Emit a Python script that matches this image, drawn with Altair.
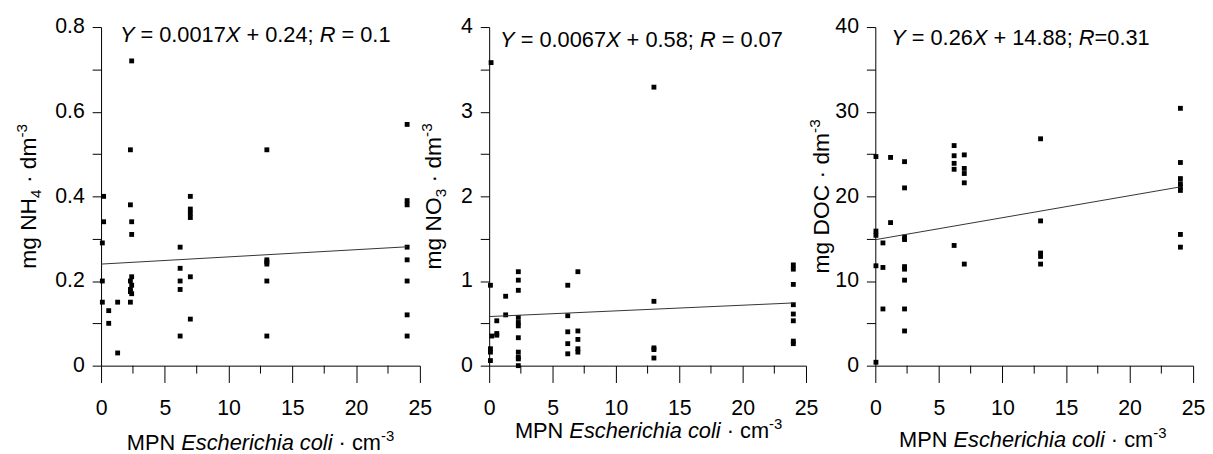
import altair as alt
import pandas as pd

FONT = "Liberation Sans"

# ---------------- data ----------------
nh4_x = [0.2, 0.2, 0.1, 0.1, 0.1,
         0.6, 0.6, 1.3, 1.3,
         2.4, 2.3, 2.3, 2.4, 2.4, 2.4, 2.3, 2.4, 2.3, 2.4, 2.3, 2.3,
         6.2, 6.2, 6.2, 6.2, 6.2,
         7.0, 7.0, 7.0, 7.0, 7.0, 7.0,
         13, 13, 13, 13, 13, 13,
         24, 24, 24, 24, 24, 24, 24, 24]
nh4_y = [0.40, 0.34, 0.29, 0.20, 0.15,
         0.13, 0.10, 0.15, 0.03,
         0.72, 0.51, 0.38, 0.34, 0.31, 0.21, 0.20, 0.19, 0.18, 0.17, 0.175, 0.15,
         0.28, 0.23, 0.20, 0.18, 0.07,
         0.40, 0.37, 0.36, 0.35, 0.21, 0.11,
         0.51, 0.25, 0.245, 0.24, 0.20, 0.07,
         0.57, 0.39, 0.38, 0.28, 0.25, 0.20, 0.12, 0.07]

no3_x = [0.15, 0.1, 0.2, 0.1, 0.1, 0.1,
         0.6, 0.6, 0.6, 1.3, 1.3,
         2.3, 2.3, 2.3, 2.3, 2.3, 2.3, 2.3, 2.3, 2.3, 2.3, 2.3,
         6.2, 6.2, 6.2, 6.2, 6.2,
         7.0, 7.0, 7.0, 7.0, 7.0,
         13, 13, 13, 13, 13,
         24, 24, 24, 24, 24, 24, 24, 24]
no3_y = [3.58, 0.95, 0.35, 0.20, 0.16, 0.06,
         0.53, 0.38, 0.36, 0.82, 0.60,
         1.11, 1.01, 0.89, 0.57, 0.51, 0.47, 0.33, 0.16, 0.10, 0.08, 0.0,
         0.95, 0.59, 0.40, 0.26, 0.14,
         1.11, 0.41, 0.31, 0.20, 0.16,
         3.29, 0.76, 0.21, 0.19, 0.09,
         1.19, 1.14, 0.96, 0.72, 0.61, 0.53, 0.29, 0.26]

doc_x = [0.05, 0.05, 0.05, 0.05, 0.05,
         0.6, 0.6, 0.6, 1.2, 1.2,
         2.3, 2.3, 2.3, 2.3, 2.3, 2.3, 2.3, 2.3, 2.3,
         6.2, 6.2, 6.2, 6.2, 6.2,
         7.0, 7.0, 7.0, 7.0, 7.0,
         13, 13, 13, 13, 13,
         24, 24, 24, 24, 24, 24, 24, 24]
doc_y = [24.7, 15.9, 15.4, 11.8, 0.4,
         14.5, 11.6, 6.7, 24.6, 16.9,
         24.1, 21.0, 15.2, 14.9, 11.7, 11.4, 10.1, 6.7, 4.1,
         26.0, 24.8, 23.9, 23.2, 14.2,
         24.9, 23.3, 22.7, 21.6, 12.0,
         26.8, 17.1, 13.3, 12.9, 12.0,
         30.4, 24.0, 22.1, 21.5, 21.1, 20.7, 15.5, 14.0]

slopes = [0.0017, 0.0067, 0.26]
intercepts = [0.24, 0.58, 14.88]
line_x = [0, 24]

x_major = [0, 5, 10, 15, 20, 25]
x_minor = [2.5, 7.5, 12.5, 17.5, 22.5]

nh4_ticks = [0, 0.1, 0.2, 0.3, 0.4, 0.5, 0.6, 0.7, 0.8]
nh4_labels = [0, 0.2, 0.4, 0.6, 0.8]
no3_ticks = [0, 0.5, 1, 1.5, 2, 2.5, 3, 3.5, 4]
no3_labels = [0, 1, 2, 3, 4]
doc_ticks = [0, 5, 10, 15, 20, 25, 30, 35, 40]
doc_labels = [0, 10, 20, 30, 40]

eq1 = [("Y", True), (" = 0.0017", False), ("X", True), (" + 0.24; ", False), ("R", True), (" = 0.1", False)]
eq2 = [("Y", True), (" = 0.0067", False), ("X", True), (" + 0.58; ", False), ("R", True), (" = 0.07", False)]
eq3 = [("Y", True), (" = 0.26", False), ("X", True), (" + 14.88; ", False), ("R", True), ("=0.31", False)]

ytitle1 = [("mg NH", 0), ("4", 1), (" · dm", 0), ("-3", -1)]
ytitle2 = [("mg NO", 0), ("3", 1), (" · dm", 0), ("-3", -1)]
ytitle3 = [("mg DOC · dm", 0), ("-3", -1)]

xtitle = [("MPN ", False, 0), ("Escherichia coli", True, 0), (" · cm", False, 0), ("-3", False, 1)]

# ---------------- text helpers (Arial / Liberation Sans advance widths) ----------------
W = {' ': 278, '.': 278, ';': 278, '=': 584, '+': 584, '-': 333, '·': 333,
     'M': 833, 'P': 667, 'N': 722, 'H': 722, 'O': 778, 'D': 722, 'C': 722,
     'Y': 667, 'X': 667, 'R': 722, 'E': 667,
     'm': 833, 'g': 556, 'd': 556, 'c': 500, 'o': 556, 'l': 222, 'i': 222,
     's': 500, 'h': 556, 'e': 556, 'r': 333, 'a': 556}


def tw(s, size):
    return sum(W.get(ch, 556) for ch in s) / 1000.0 * size


MAIN = 22
SMALL = 15
YT = 23      # y-title font size
YTS = 15.5   # y-title sub/superscript size


def text_layers(rows):
    layers = []
    df = pd.DataFrame(rows)
    for (size, italic, angle), g in df.groupby(["size", "italic", "angle"]):
        layers.append(
            alt.Chart(g.reset_index(drop=True)).mark_text(
                align="left", baseline="alphabetic", font=FONT,
                fontSize=float(size), fontStyle="italic" if italic else "normal",
                angle=float(angle), color="black"
            ).encode(
                x=alt.X("px:Q", scale=None, axis=None),
                y=alt.Y("py:Q", scale=None, axis=None),
                text="text:N",
            )
        )
    return layers


def horiz_rows(parts, x0, yb):
    rows = []
    cum = 0.0
    for text, italic, sup in parts:
        size = SMALL if sup else MAIN
        lead = len(text) - len(text.lstrip(" "))
        rows.append(dict(px=x0 + cum + tw(" " * lead, size), py=yb - 9 * sup,
                         text=text.strip(), size=size, italic=italic, angle=0))
        cum += tw(text, size)
    return rows


def vert_rows(parts, xb, ycenter):
    total = sum(tw(t, YTS if s else YT) for t, s in parts)
    ystart = ycenter + total / 2
    rows = []
    cum = 0.0
    for text, shift in parts:
        size = YTS if shift else YT
        lead = len(text) - len(text.lstrip(" "))
        dx = 5 if shift == 1 else (-9 if shift == -1 else 0)
        rows.append(dict(px=xb + dx, py=ystart - cum - tw(" " * lead, size),
                         text=text.strip(), size=size, italic=False, angle=270))
        cum += tw(text, size)
    return rows


def panel(xs, ys, slope, icpt, ymax, yticks, ylabels, width, height,
          eq, eq_pos, ytitle, ytitle_xb, xtitle_pos):
    xscale = alt.Scale(domain=[0, 25], nice=False, zero=False)
    yscale = alt.Scale(domain=[0, ymax], nice=False, zero=False)
    xaxis = alt.Axis(values=x_major, tickSize=17, labelPadding=15, title=None,
                     format="d", domainColor="black", tickColor="black")
    label_expr = f"indexof({ylabels}, datum.value) >= 0 ? format(datum.value, '.1~f') : ''"
    yaxis = alt.Axis(values=yticks, tickSize=9, labelPadding=8, title=None,
                     labelExpr=label_expr, domainColor="black", tickColor="black")

    pts = alt.Chart(pd.DataFrame({"x": xs, "y": ys})).mark_square(
        size=24, color="black", opacity=1, filled=True
    ).encode(x=alt.X("x:Q", scale=xscale, axis=xaxis),
             y=alt.Y("y:Q", scale=yscale, axis=yaxis))

    ldf = pd.DataFrame({"x": line_x, "y": [icpt + slope * v for v in line_x]})
    line = alt.Chart(ldf).mark_line(color="#333333", strokeWidth=1).encode(
        x=alt.X("x:Q", scale=xscale, axis=xaxis),
        y=alt.Y("y:Q", scale=yscale, axis=yaxis))

    minor = alt.Chart(pd.DataFrame({"t": x_minor})).mark_rule(
        color="black", strokeWidth=1
    ).encode(x=alt.X("t:Q", scale=xscale, axis=xaxis),
             y=alt.value(height), y2=alt.value(height + 8))

    rows = []
    rows += horiz_rows([(t, it, 0) for t, it in eq], eq_pos[0], eq_pos[1])
    rows += vert_rows(ytitle, ytitle_xb, height / 2)
    rows += horiz_rows(xtitle, xtitle_pos[0], xtitle_pos[1])

    return alt.layer(pts, line, minor, *text_layers(rows)).properties(
        width=width, height=height)


H = 342
p1 = panel(nh4_x, nh4_y, slopes[0], intercepts[0], 0.8, nh4_ticks, nh4_labels,
           322, H, eq1, (19, 15), ytitle1, -66, (26, 427))
p2 = panel(no3_x, no3_y, slopes[1], intercepts[1], 4, no3_ticks, no3_labels,
           320, H, eq2, (11, 20), ytitle2, -49, (26, 415))
p3 = panel(doc_x, doc_y, slopes[2], intercepts[2], 40, doc_ticks, doc_labels,
           321, H, eq3, (16, 18), ytitle3, -47, (24, 424))

chart = alt.hconcat(p1, p2, p3, spacing=70, bounds="flush").properties(
    padding={"left": 7, "top": 6, "right": 0, "bottom": 0}
).configure_view(stroke=None).configure_axis(
    grid=False, labelFont=FONT, labelFontSize=21.5, labelColor="black",
    labelFlush=False, labelOverlap=False, domainWidth=1, tickWidth=1,
)

chart.save("out.html", embed_options={"renderer": "svg", "actions": False})
